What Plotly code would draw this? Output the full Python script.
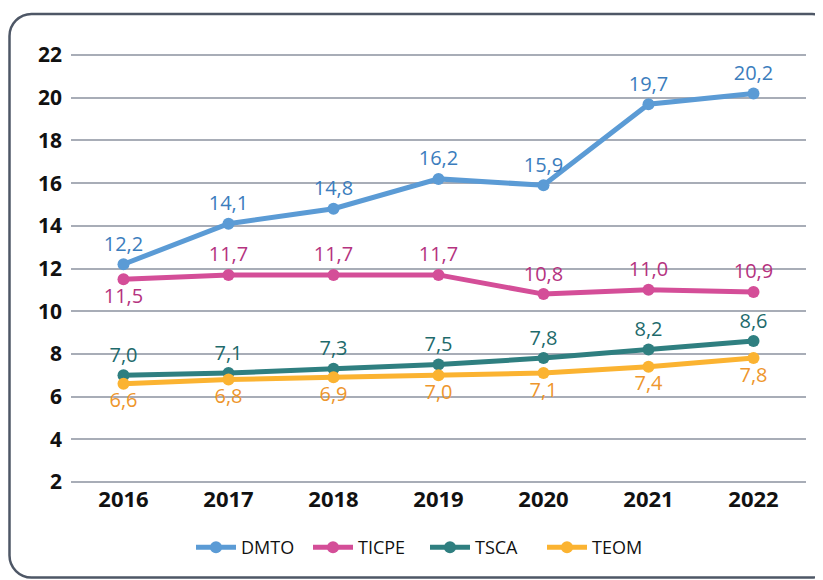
import plotly.graph_objects as go

years = ["2016", "2017", "2018", "2019", "2020", "2021", "2022"]
dmto = [12.2, 14.1, 14.8, 16.2, 15.9, 19.7, 20.2]
ticpe = [11.5, 11.7, 11.7, 11.7, 10.8, 11.0, 10.9]
tsca = [7.0, 7.1, 7.3, 7.5, 7.8, 8.2, 8.6]
teom = [6.6, 6.8, 6.9, 7.0, 7.1, 7.4, 7.8]
y_ticks = [2, 4, 6, 8, 10, 12, 14, 16, 18, 20, 22]

def fmt(vals):
    return [f"{v:.1f}".replace(".", ",") for v in vals]

series = [
    ("DMTO", dmto, "#5B9BD5", "#3B7DBD", ["top center"] * 7),
    ("TICPE", ticpe, "#D44E98", "#B5337F", ["bottom center"] + ["top center"] * 6),
    ("TSCA", tsca, "#2F7F80", "#1E6A6B", ["top center"] * 7),
    ("TEOM", teom, "#FBB331", "#EE962C", ["bottom center"] * 7),
]

fig = go.Figure()
for name, vals, col, tcol, pos in series:
    fig.add_trace(go.Scatter(
        x=years, y=vals, name=name, mode="lines+markers+text",
        line=dict(color=col, width=5),
        marker=dict(color=col, size=12),
        text=fmt(vals), textposition=pos,
        textfont=dict(color=tcol, size=20, family="Open Sans"),
        cliponaxis=False,
    ))

# page has an 8px body margin; figure coords = page coords - 8
OFF = 8
W, H = 815, 572
ml, mr, mt, mb = 63, 17, 45, 96
pw, ph = W - ml - mr, H - mt - mb

def px(x):
    return (x - OFF - ml) / pw

def py(y):
    return (H - mb - (y - OFF)) / ph

x0, x1, y0, y1, r = 9.5, 834, 14, 577.5, 22
k = 0.45
path = (
    f"M {px(x0 + r)} {py(y0)} L {px(x1 - r)} {py(y0)} "
    f"C {px(x1 - r * k)} {py(y0)} {px(x1)} {py(y0 + r * k)} {px(x1)} {py(y0 + r)} "
    f"L {px(x1)} {py(y1 - r)} "
    f"C {px(x1)} {py(y1 - r * k)} {px(x1 - r * k)} {py(y1)} {px(x1 - r)} {py(y1)} "
    f"L {px(x0 + r)} {py(y1)} "
    f"C {px(x0 + r * k)} {py(y1)} {px(x0)} {py(y1 - r * k)} {px(x0)} {py(y1 - r)} "
    f"L {px(x0)} {py(y0 + r)} "
    f"C {px(x0)} {py(y0 + r * k)} {px(x0 + r * k)} {py(y0)} {px(x0 + r)} {py(y0)} Z"
)

fig.update_layout(
    width=W, height=H,
    margin=dict(l=ml, r=mr, t=mt, b=mb, autoexpand=False),
    paper_bgcolor="white", plot_bgcolor="white",
    font=dict(family="Open Sans", color="#111111"),
    showlegend=True,
    legend=dict(orientation="h", x=px(191), xanchor="left", y=py(529), yanchor="top",
                font=dict(size=18, color="#111111"), itemwidth=40, tracegroupgap=0,
                entrywidth=62),
    xaxis=dict(type="category", range=[-0.5, 6.5], showgrid=False, showline=False,
               ticks="", automargin=False,
               tickfont=dict(size=22, family="Open Sans", weight="bold", color="#111111"),
               zeroline=False),
    yaxis=dict(range=[1.9, 22.1], tickvals=y_ticks, showgrid=True, gridcolor="#A8ADB7",
               gridwidth=1.5, zeroline=False, showline=False, ticks="",
               ticklabelstandoff=8, automargin=False,
               tickfont=dict(size=21, family="Open Sans", weight="bold", color="#111111")),
    shapes=[dict(type="path", xref="paper", yref="paper", path=path,
                 line=dict(color="#4E5766", width=2.5), fillcolor="rgba(0,0,0,0)",
                 layer="below")],
)

fig.write_html("out.html")
